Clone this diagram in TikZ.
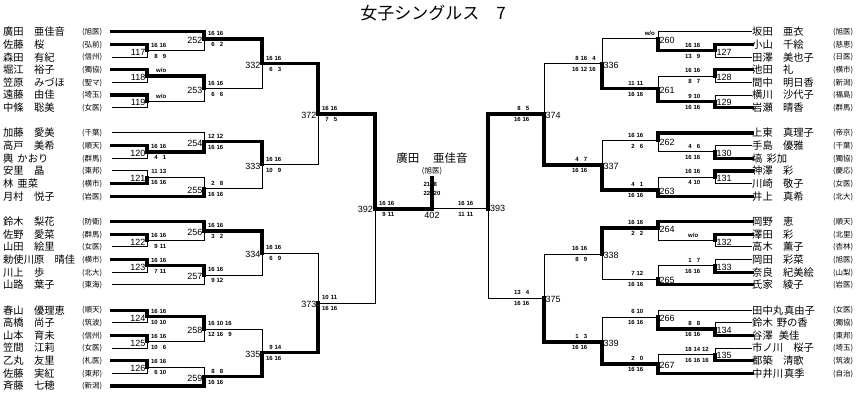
\documentclass[tikz,border=0pt]{standalone}
\usepackage{fontspec}
\setmainfont{Liberation Sans}
\newfontfamily\jpf{Noto Sans CJK JP}
\newcommand\gs[1]{\makebox[8.5pt][r]{#1}}
\newcommand\lpl[4]{\node[nm,anchor=west] (#1n) at (3,#2) {#3};\node[sch,anchor=west] (#1s) at (82,#2) {#4};\coordinate (#1) at (112,#2);}
\newcommand\rpl[4]{\coordinate (#1) at (752,#2);\node[nm,anchor=west] (#1n) at (752,#2) {#3};\node[sch,anchor=west] (#1s) at (833,#2) {#4};}
\newcommand\lmt[3]{\coordinate (m#1) at (#2,#3);\node[lbl,anchor=east] (l#1) at ({#2-1.5},{#3+1.5}) {#1};}
\newcommand\rmt[3]{\coordinate (m#1) at (#2,#3);\node[lbl,anchor=west] (l#1) at ({#2+1.5},{#3+1.5}) {#1};}
\newcommand\lsc[5]{\node[scs,anchor=west] (s#1a) at ({#2+2},{#3-5.5}) {#4};\node[scs,anchor=west] (s#1b) at ({#2+2},{#3+5.5}) {#5};}
\newcommand\rsc[5]{\node[scs,anchor=west] (s#1a) at ({#2-32},{#3-5.5}) {#4};\node[scs,anchor=west] (s#1b) at ({#2-32},{#3+5.5}) {#5};}
\tikzset{
  nm/.style={font={\jpf\fontsize{10.3}{11}\selectfont}, inner sep=0pt, text height=9.06pt, text depth=1.24pt},
  sch/.style={font={\jpf\fontsize{7.5}{8}\selectfont}, inner sep=0pt, text height=6.6pt, text depth=0.9pt},
  lbl/.style={font={\fontsize{9}{9}\selectfont}, inner sep=0pt},
  scs/.style={font={\bfseries\fontsize{6}{6}\selectfont}, inner sep=0pt, text height=4.3pt, text depth=0pt},
  win/.style={line width=3.2pt, line cap=rect},
  lose/.style={line width=1pt},
}
\begin{document}
\begin{tikzpicture}[x=1pt,y=-1pt]
\fill[white] (0,0) rectangle (863,401);
\useasboundingbox (0,0) rectangle (863,401);
\node[font={\jpf\fontsize{17}{18}\selectfont}, inner sep=0pt] (title) at (433,13) {女子シングルス　7};
% ---------- left players
\lpl{L0}{31.8}{廣田　亜佳音}{(旭医)}
\lpl{L1}{44.45}{佐藤　桜}{(弘前)}
\lpl{L2}{57.1}{森田　有紀}{(信州)}
\lpl{L3}{69.75}{堀江　裕子}{(獨協)}
\lpl{L4}{82.4}{笠原　みづほ}{(聖マ)}
\lpl{L5}{95.05}{遠藤　由佳}{(埼玉)}
\lpl{L6}{107.7}{中條　聡美}{(女医)}
\lpl{L8}{133.0}{加藤　愛美}{(千葉)}
\lpl{L9}{145.65}{高戸　美希}{(順天)}
\lpl{L10}{158.3}{輿\hspace{4pt}かおり}{(群馬)}
\lpl{L11}{170.95}{安里　晶}{(東邦)}
\lpl{L12}{183.6}{林\hspace{4pt}亜菜}{(横市)}
\lpl{L13}{196.25}{月村　悦子}{(岩医)}
\lpl{L15}{221.55}{鈴木　梨花}{(防衛)}
\lpl{L16}{234.2}{佐野　愛菜}{(群馬)}
\lpl{L17}{246.85}{山田　絵里}{(女医)}
\lpl{L18}{259.5}{勅使川原　晴佳}{(横市)}
\lpl{L19}{272.15}{川上　歩}{(北大)}
\lpl{L20}{284.8}{山路　葉子}{(東海)}
\lpl{L22}{310.1}{春山　優理恵}{(順天)}
\lpl{L23}{322.75}{高橋　尚子}{(筑波)}
\lpl{L24}{335.4}{山本　育未}{(信州)}
\lpl{L25}{348.05}{笠間　江莉}{(女医)}
\lpl{L26}{360.7}{乙丸　友里}{(札医)}
\lpl{L27}{373.35}{佐藤　実紅}{(東邦)}
\lpl{L28}{386.0}{斉藤　七穂}{(新潟)}
% ---------- right players
\rpl{R0}{31.8}{坂田　亜衣}{(旭医)}
\rpl{R1}{44.45}{小山　千絵}{(慈恵)}
\rpl{R2}{57.1}{田澤　美也子}{(日医)}
\rpl{R3}{69.75}{池田　礼}{(横市)}
\rpl{R4}{82.4}{間中　明日香}{(新潟)}
\rpl{R5}{95.05}{横川　沙代子}{(福島)}
\rpl{R6}{107.7}{岩瀬　晴香}{(群馬)}
\rpl{R8}{133.0}{上東　真理子}{(帝京)}
\rpl{R9}{145.65}{手島　優雅}{(千葉)}
\rpl{R10}{158.3}{塙\hspace{4pt}彩加}{(獨協)}
\rpl{R11}{170.95}{神澤　彩}{(慶応)}
\rpl{R12}{183.6}{川崎　敬子}{(女医)}
\rpl{R13}{196.25}{井上　真希}{(北大)}
\rpl{R15}{221.55}{岡野　恵}{(順天)}
\rpl{R16}{234.2}{澤田　彩}{(北里)}
\rpl{R17}{246.85}{高木　薫子}{(杏林)}
\rpl{R18}{259.5}{岡田　彩菜}{(旭医)}
\rpl{R19}{272.15}{奈良　紀美絵}{(山梨)}
\rpl{R20}{284.8}{氏家　綾子}{(岩医)}
\rpl{R22}{310.1}{田中丸\hspace{1pt}真由子}{(女医)}
\rpl{R23}{322.75}{鈴木\hspace{4pt}野の香}{(獨協)}
\rpl{R24}{335.4}{谷澤\hspace{6pt}美佳}{(東邦)}
\rpl{R25}{348.05}{市ノ川　桜子}{(埼玉)}
\rpl{R26}{360.7}{都築　清歌}{(筑波)}
\rpl{R27}{373.35}{中井川\hspace{1pt}真季}{(自治)}
% ---------- left matches
\lmt{117}{147}{50.5}\lmt{118}{147}{76}\lmt{119}{147}{101.4}
\lmt{252}{204}{39}\lmt{253}{204}{88.5}\lmt{332}{262}{63.5}
\lmt{120}{147}{152}\lmt{121}{147}{177.3}
\lmt{254}{204}{141.5}\lmt{255}{204}{189}\lmt{333}{262}{164.5}
\lmt{122}{147}{240.5}\lmt{123}{147}{265.8}
\lmt{256}{204}{231}\lmt{257}{204}{275.3}\lmt{334}{262}{253}
\lmt{124}{147}{316.4}\lmt{125}{147}{341.7}\lmt{126}{147}{367}
\lmt{258}{204}{329}\lmt{259}{204}{376.5}\lmt{335}{262}{352.8}
\lmt{372}{318}{114}\lmt{373}{318}{303}
\coordinate (m392) at (375,209);
\node[lbl,anchor=east] (l392) at (373,209) {392};
% ---------- right matches
\rmt{127}{715}{50.8}\rmt{128}{715}{76.1}\rmt{129}{715}{101.4}
\rmt{260}{658}{39}\rmt{261}{658}{88.7}\rmt{336}{602}{63.5}
\rmt{130}{715}{152}\rmt{131}{715}{177.3}
\rmt{262}{658}{140.5}\rmt{263}{658}{190}\rmt{337}{602}{165}
\rmt{132}{715}{240.5}\rmt{133}{715}{265.8}
\rmt{264}{658}{228}\rmt{265}{658}{279}\rmt{338}{602}{254}
\rmt{134}{715}{329}\rmt{135}{715}{354.4}
\rmt{266}{658}{317}\rmt{267}{658}{364}\rmt{339}{602}{342}
\rmt{374}{544}{114}\rmt{375}{544}{298}
\coordinate (m393) at (488,209);
\node[lbl,anchor=west] (l393) at (490,208.5) {393};
\coordinate (m402) at (432,209);
\coordinate (champ) at (432,178);
\node[lbl,anchor=north] (l402) at (432,212.5) {402};
% ---------- champion
\node[font={\jpf\fontsize{11.5}{12}\selectfont}, inner sep=0pt] (chname) at (432,158) {廣田\hspace{14pt}亜佳音};
\node[sch] (chsch) at (432,171) {(旭医)};
% ---------- scores left
\lsc{117}{147}{50.5}{\gs{16}\gs{16}}{\gs{8}\gs{9}}
\node[scs,anchor=west] (s118a) at (156,70.5) {w/o};
\node[scs,anchor=west] (s119a) at (156,96) {w/o};
\lsc{252}{204}{39}{\gs{16}\gs{16}}{\gs{6}\gs{2}}
\lsc{253}{204}{88.5}{\gs{16}\gs{16}}{\gs{6}\gs{6}}
\lsc{332}{262}{63.5}{\gs{16}\gs{16}}{\gs{6}\gs{3}}
\lsc{120}{147}{152}{\gs{16}\gs{16}}{\gs{4}\gs{1}}
\lsc{121}{147}{177.3}{\gs{11}\gs{13}}{\gs{16}\gs{16}}
\lsc{254}{204}{141.5}{\gs{12}\gs{12}}{\gs{16}\gs{16}}
\lsc{255}{204}{189}{\gs{2}\gs{8}}{\gs{16}\gs{16}}
\lsc{333}{262}{164.5}{\gs{16}\gs{16}}{\gs{10}\gs{9}}
\lsc{122}{147}{240.5}{\gs{16}\gs{16}}{\gs{9}\gs{11}}
\lsc{123}{147}{265.8}{\gs{16}\gs{16}}{\gs{7}\gs{11}}
\lsc{256}{204}{231}{\gs{16}\gs{16}}{\gs{3}\gs{2}}
\lsc{257}{204}{275.3}{\gs{16}\gs{16}}{\gs{9}\gs{12}}
\lsc{334}{262}{253}{\gs{16}\gs{16}}{\gs{6}\gs{9}}
\lsc{124}{147}{316.4}{\gs{16}\gs{16}}{\gs{10}\gs{10}}
\lsc{125}{147}{341.7}{\gs{16}\gs{16}}{\gs{10}\gs{6}}
\lsc{126}{147}{367}{\gs{16}\gs{16}}{\gs{6}\gs{10}}
\lsc{258}{204}{329}{\gs{16}\gs{10}\gs{16}}{\gs{12}\gs{16}\gs{9}}
\lsc{259}{204}{376.5}{\gs{8}\gs{8}}{\gs{16}\gs{16}}
\lsc{335}{262}{352.8}{\gs{9}\gs{14}}{\gs{16}\gs{16}}
\lsc{372}{318}{114}{\gs{16}\gs{16}}{\gs{7}\gs{5}}
\lsc{373}{318}{303}{\gs{10}\gs{11}}{\gs{16}\gs{16}}
\lsc{392}{375}{209}{\gs{16}\gs{16}}{\gs{9}\gs{11}}
% ---------- scores right
\rsc{127}{715}{50.8}{\gs{16}\gs{16}}{\gs{13}\gs{9}}
\rsc{128}{715}{76.1}{\gs{16}\gs{16}}{\gs{8}\gs{7}}
\rsc{129}{715}{101.4}{\gs{9}\gs{10}}{\gs{16}\gs{16}}
\node[scs,anchor=east] (s260a) at (655,33) {w/o};
\rsc{261}{658}{88.7}{\gs{11}\gs{11}}{\gs{16}\gs{16}}
\rsc{336}{602}{63.5}{\gs{8}\gs{16}\gs{4}}{\gs{16}\gs{12}\gs{16}}
\rsc{130}{715}{152}{\gs{4}\gs{6}}{\gs{16}\gs{16}}
\rsc{131}{715}{177.3}{\gs{16}\gs{16}}{\gs{4}\gs{10}}
\rsc{262}{658}{140.5}{\gs{16}\gs{16}}{\gs{2}\gs{6}}
\rsc{263}{658}{190}{\gs{4}\gs{1}}{\gs{16}\gs{16}}
\rsc{337}{602}{165}{\gs{4}\gs{7}}{\gs{16}\gs{16}}
\node[scs,anchor=west] (s132a) at (688,235) {w/o};
\rsc{133}{715}{265.8}{\gs{1}\gs{7}}{\gs{16}\gs{16}}
\rsc{264}{658}{228}{\gs{16}\gs{16}}{\gs{2}\gs{2}}
\rsc{265}{658}{279}{\gs{7}\gs{12}}{\gs{16}\gs{16}}
\rsc{338}{602}{254}{\gs{16}\gs{16}}{\gs{8}\gs{9}}
\rsc{134}{715}{329}{\gs{8}\gs{8}}{\gs{16}\gs{16}}
\rsc{135}{715}{354.4}{\gs{18}\gs{14}\gs{12}}{\gs{16}\gs{16}\gs{16}}
\rsc{266}{658}{317}{\gs{6}\gs{10}}{\gs{16}\gs{16}}
\rsc{267}{658}{364}{\gs{2}\gs{0}}{\gs{16}\gs{16}}
\rsc{339}{602}{342}{\gs{1}\gs{3}}{\gs{16}\gs{16}}
\rsc{374}{544}{114}{\gs{8}\gs{5}}{\gs{16}\gs{16}}
\rsc{375}{544}{298}{\gs{13}\gs{4}}{\gs{16}\gs{16}}
\rsc{393}{488}{209}{\gs{16}\gs{16}}{\gs{11}\gs{11}}
% final scores
\node[scs,anchor=east] (f1a) at (430.5,184) {21};
\node[scs,anchor=west] (f1b) at (433.5,184) {8};
\node[scs,anchor=east] (f2a) at (430.5,193) {22};
\node[scs,anchor=west] (f2b) at (433.5,193) {20};
% ---------- thin (losing) connectors
\foreach \a/\b in {L2/m117,L4/m118,L6/m119,m117/m252,m119/m253,m253/m332,m333/m372,
  L10/m120,L11/m121,L8/m254,m121/m255,m255/m333,L17/m122,L19/m123,m122/m256,L20/m257,
  m257/m334,m334/m373,L23/m124,L25/m125,L27/m126,m125/m258,m126/m259,m258/m335,m373/m392,
  R2/m127,R4/m128,R5/m129,R0/m260,m128/m261,m260/m336,m336/m374,R9/m130,R12/m131,
  m130/m262,m131/m263,m262/m337,R17/m132,R18/m133,m132/m264,m133/m265,m265/m338,
  m338/m375,R23/m134,R25/m135,R22/m266,m135/m267,m266/m339,m375/m393}
  {\draw[lose] (\a) -| (\b);}
\draw[lose] (m393) -- (m402);
% ---------- thick (winning) connectors
\foreach \a/\b in {L1/m117,L3/m118,L5/m119,L0/m252,m118/m253,m252/m332,m332/m372,
  L9/m120,L12/m121,m120/m254,L13/m255,m254/m333,L16/m122,L18/m123,L15/m256,m123/m257,
  m256/m334,m335/m373,L22/m124,L24/m125,L26/m126,m124/m258,L28/m259,m259/m335,m372/m392,
  R1/m127,R3/m128,R6/m129,m127/m260,m129/m261,m261/m336,m337/m374,R10/m130,R11/m131,
  R8/m262,R13/m263,m263/m337,R16/m132,R19/m133,R15/m264,R20/m265,m264/m338,
  m339/m375,R24/m134,R26/m135,m134/m266,R27/m267,m267/m339,m374/m393}
  {\draw[win] (\a) -| (\b);}
\draw[win] (m392) -- (m402) -- (champ);
\end{tikzpicture}
\end{document}
